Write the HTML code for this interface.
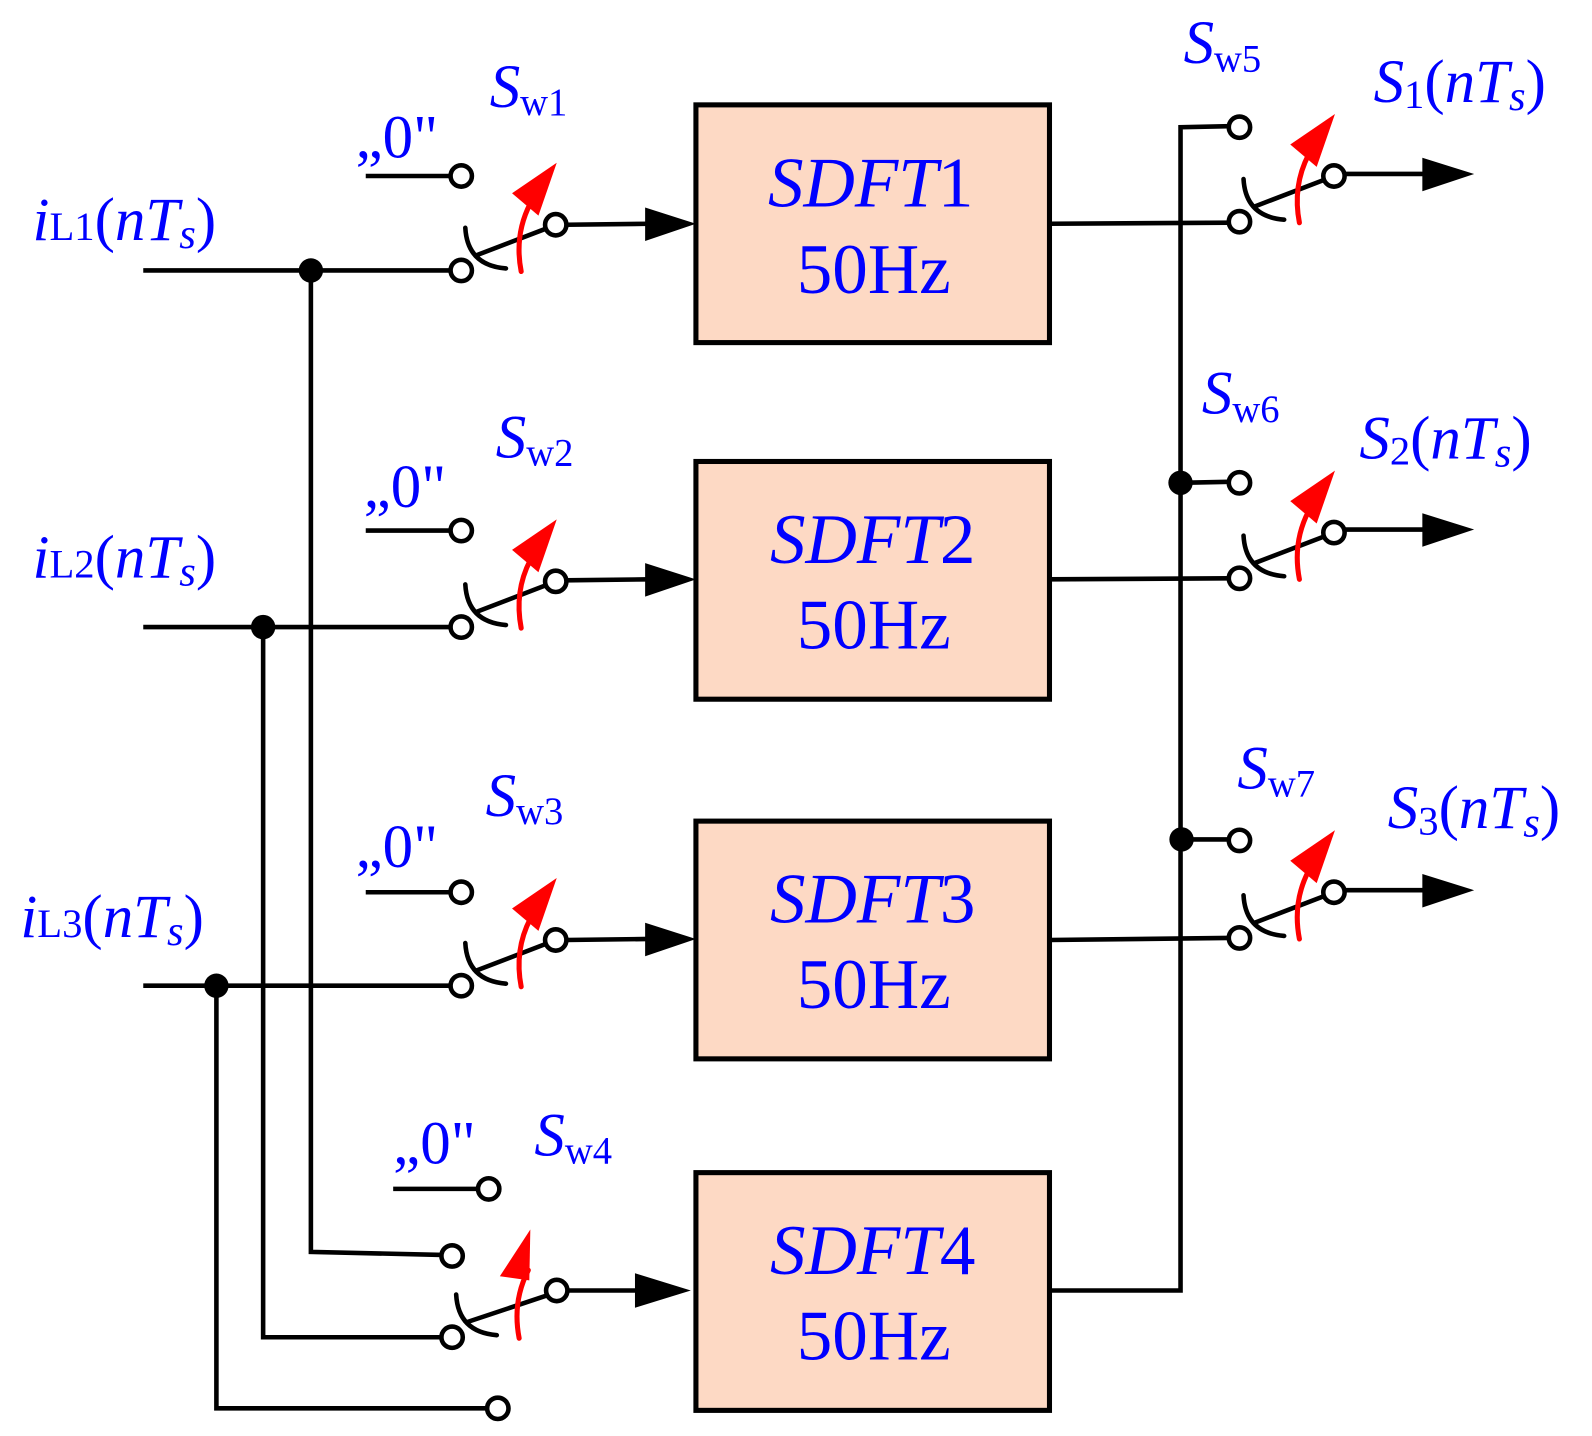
<!DOCTYPE html>
<html><head><meta charset="utf-8"><style>
html,body{margin:0;padding:0;background:#fff;}
svg{display:block;}
text{font-family:"Liberation Serif",serif;fill:#0000ff;}
</style></head><body>
<svg width="1592" height="1436" viewBox="0 0 1567 1413" xmlns="http://www.w3.org/2000/svg">
<defs>
<g id="sw">
  <path d="M4,-42 Q6,-5 44,-2" fill="none" stroke="#000" stroke-width="4.5" stroke-linecap="round"/>
  <line x1="15" y1="-15" x2="83" y2="-41" stroke="#000" stroke-width="4.5"/>
  <path d="M59,1 Q52,-35 68,-66" fill="none" stroke="#f00" stroke-width="5" stroke-linecap="round"/>
  <polygon points="94,-106 50,-76 76,-54" fill="#f00"/>
  <circle cx="0" cy="0" r="10.5" fill="#fff" stroke="#000" stroke-width="4.5"/>
  <circle cx="93" cy="-45" r="10.5" fill="#fff" stroke="#000" stroke-width="4.5"/>
</g>
<g id="sw4">
  <path d="M4,-42 Q6,-5 44,-2" fill="none" stroke="#000" stroke-width="4.5" stroke-linecap="round"/>
  <line x1="15" y1="-15" x2="93" y2="-41" stroke="#000" stroke-width="4.5"/>
  <path d="M66,1 Q59,-35 75,-66" fill="none" stroke="#f00" stroke-width="5" stroke-linecap="round"/>
  <polygon points="77,-106 47,-60 76,-56" fill="#f00"/>
  <circle cx="0" cy="0" r="10.5" fill="#fff" stroke="#000" stroke-width="4.5"/>
  <circle cx="103" cy="-46" r="10.5" fill="#fff" stroke="#000" stroke-width="4.5"/>
</g>
<g id="box">
  <rect x="0" y="0" width="348" height="234" fill="#fdd9c4" stroke="#000" stroke-width="5"/>
</g>
</defs>
<g stroke="#000" stroke-width="4.5" fill="none">
  <line x1="141" y1="266" x2="444" y2="266"/>
  <line x1="141" y1="617" x2="444" y2="617"/>
  <line x1="141" y1="970" x2="444" y2="970"/>
  <polyline points="306,266 306,1232 435,1235"/>
  <polyline points="259,617 259,1316 435,1316"/>
  <polyline points="213,970 213,1386 480,1386"/>
  <line x1="360" y1="173" x2="444" y2="173"/>
  <line x1="360" y1="522" x2="444" y2="522"/>
  <line x1="360" y1="878" x2="444" y2="878"/>
  <line x1="387" y1="1170" x2="471" y2="1170"/>
  <line x1="557" y1="221" x2="640" y2="220"/>
  <line x1="557" y1="571" x2="640" y2="570"/>
  <line x1="557" y1="925" x2="640" y2="924"/>
  <line x1="558" y1="1270" x2="630" y2="1270"/>
  <polyline points="1033,1270 1162,1270 1162,125 1210,124"/>
  <line x1="1162" y1="475" x2="1210" y2="474"/>
  <line x1="1163" y1="826" x2="1210" y2="826"/>
  <line x1="1033" y1="220" x2="1210" y2="219"/>
  <line x1="1033" y1="570" x2="1210" y2="569"/>
  <line x1="1033" y1="925" x2="1210" y2="923"/>
  <line x1="1323" y1="171" x2="1405" y2="171"/>
  <line x1="1323" y1="521" x2="1405" y2="521"/>
  <line x1="1323" y1="876" x2="1405" y2="876"/>
</g>
<g fill="#000">
  <polygon points="635,204 685,220 635,237"/>
  <polygon points="635,554 685,570 635,587"/>
  <polygon points="635,908 685,924 635,941"/>
  <polygon points="625,1253 680,1270 625,1287"/>
  <polygon points="1400,155 1451,171 1400,188"/>
  <polygon points="1400,505 1451,521 1400,538"/>
  <polygon points="1400,860 1451,876 1400,893"/>
  <circle cx="306" cy="266" r="12"/>
  <circle cx="259" cy="617" r="12"/>
  <circle cx="213" cy="970" r="12"/>
  <circle cx="1162" cy="475" r="12"/>
  <circle cx="1163" cy="826" r="12"/>
</g>
<g fill="#fff" stroke="#000" stroke-width="4.5">
  <circle cx="454" cy="173" r="10.5"/>
  <circle cx="454" cy="522" r="10.5"/>
  <circle cx="454" cy="878" r="10.5"/>
  <circle cx="481" cy="1170" r="10.5"/>
  <circle cx="445" cy="1236" r="10.5"/>
  <circle cx="490" cy="1386" r="10.5"/>
  <circle cx="1220" cy="125" r="10.5"/>
  <circle cx="1220" cy="475" r="10.5"/>
  <circle cx="1220" cy="827" r="10.5"/>
</g>
<use href="#sw" x="454" y="266"/>
<use href="#sw" x="454" y="617"/>
<use href="#sw" x="454" y="970"/>
<use href="#sw4" x="445" y="1316"/>
<use href="#sw" x="1220" y="218"/>
<use href="#sw" x="1220" y="569"/>
<use href="#sw" x="1220" y="923"/>
<use href="#box" x="685" y="103"/>
<use href="#box" x="685" y="454"/>
<use href="#box" x="685" y="808"/>
<use href="#box" x="685" y="1154"/>
<g font-size="70" text-anchor="middle">
  <text x="857" y="203"><tspan font-style="italic">SDFT</tspan>1</text>
  <text x="860" y="288">50Hz</text>
  <text x="859" y="554"><tspan font-style="italic">SDFT</tspan>2</text>
  <text x="860" y="638">50Hz</text>
  <text x="859" y="908"><tspan font-style="italic">SDFT</tspan>3</text>
  <text x="860" y="992">50Hz</text>
  <text x="859" y="1254"><tspan font-style="italic">SDFT</tspan>4</text>
  <text x="860" y="1338">50Hz</text>
</g>
<g font-size="60">
  <text x="32" y="236"><tspan font-style="italic">i</tspan><tspan font-size="40">L1</tspan>(<tspan font-style="italic">nT</tspan><tspan font-style="italic" font-size="42" dy="8">s</tspan><tspan dy="-8">)</tspan></text>
  <text x="32" y="568"><tspan font-style="italic">i</tspan><tspan font-size="40">L2</tspan>(<tspan font-style="italic">nT</tspan><tspan font-style="italic" font-size="42" dy="8">s</tspan><tspan dy="-8">)</tspan></text>
  <text x="20" y="922"><tspan font-style="italic">i</tspan><tspan font-size="40">L3</tspan>(<tspan font-style="italic">nT</tspan><tspan font-style="italic" font-size="42" dy="8">s</tspan><tspan dy="-8">)</tspan></text>
  <text x="1352" y="100"><tspan font-style="italic">S</tspan><tspan font-size="40" dy="6">1</tspan><tspan dy="-6">(</tspan><tspan font-style="italic">nT</tspan><tspan font-style="italic" font-size="42" dy="8">s</tspan><tspan dy="-8">)</tspan></text>
  <text x="1338" y="451"><tspan font-style="italic">S</tspan><tspan font-size="40" dy="6">2</tspan><tspan dy="-6">(</tspan><tspan font-style="italic">nT</tspan><tspan font-style="italic" font-size="42" dy="8">s</tspan><tspan dy="-8">)</tspan></text>
  <text x="1366" y="815"><tspan font-style="italic">S</tspan><tspan font-size="40" dy="6">3</tspan><tspan dy="-6">(</tspan><tspan font-style="italic">nT</tspan><tspan font-style="italic" font-size="42" dy="8">s</tspan><tspan dy="-8">)</tspan></text>
  <text x="350" y="155">„0"</text>
  <text x="358" y="499">„0"</text>
  <text x="350" y="853">„0"</text>
  <text x="387" y="1145">„0"</text>
  <text x="482" y="105"><tspan font-style="italic">S</tspan><tspan font-size="38" dy="8">w1</tspan></text>
  <text x="488" y="450"><tspan font-style="italic">S</tspan><tspan font-size="38" dy="8">w2</tspan></text>
  <text x="478" y="803"><tspan font-style="italic">S</tspan><tspan font-size="38" dy="8">w3</tspan></text>
  <text x="526" y="1137"><tspan font-style="italic">S</tspan><tspan font-size="38" dy="8">w4</tspan></text>
  <text x="1165" y="62"><tspan font-style="italic">S</tspan><tspan font-size="38" dy="8">w5</tspan></text>
  <text x="1183" y="407"><tspan font-style="italic">S</tspan><tspan font-size="38" dy="8">w6</tspan></text>
  <text x="1218" y="776"><tspan font-style="italic">S</tspan><tspan font-size="38" dy="8">w7</tspan></text>
</g>
</svg>
</body></html>
